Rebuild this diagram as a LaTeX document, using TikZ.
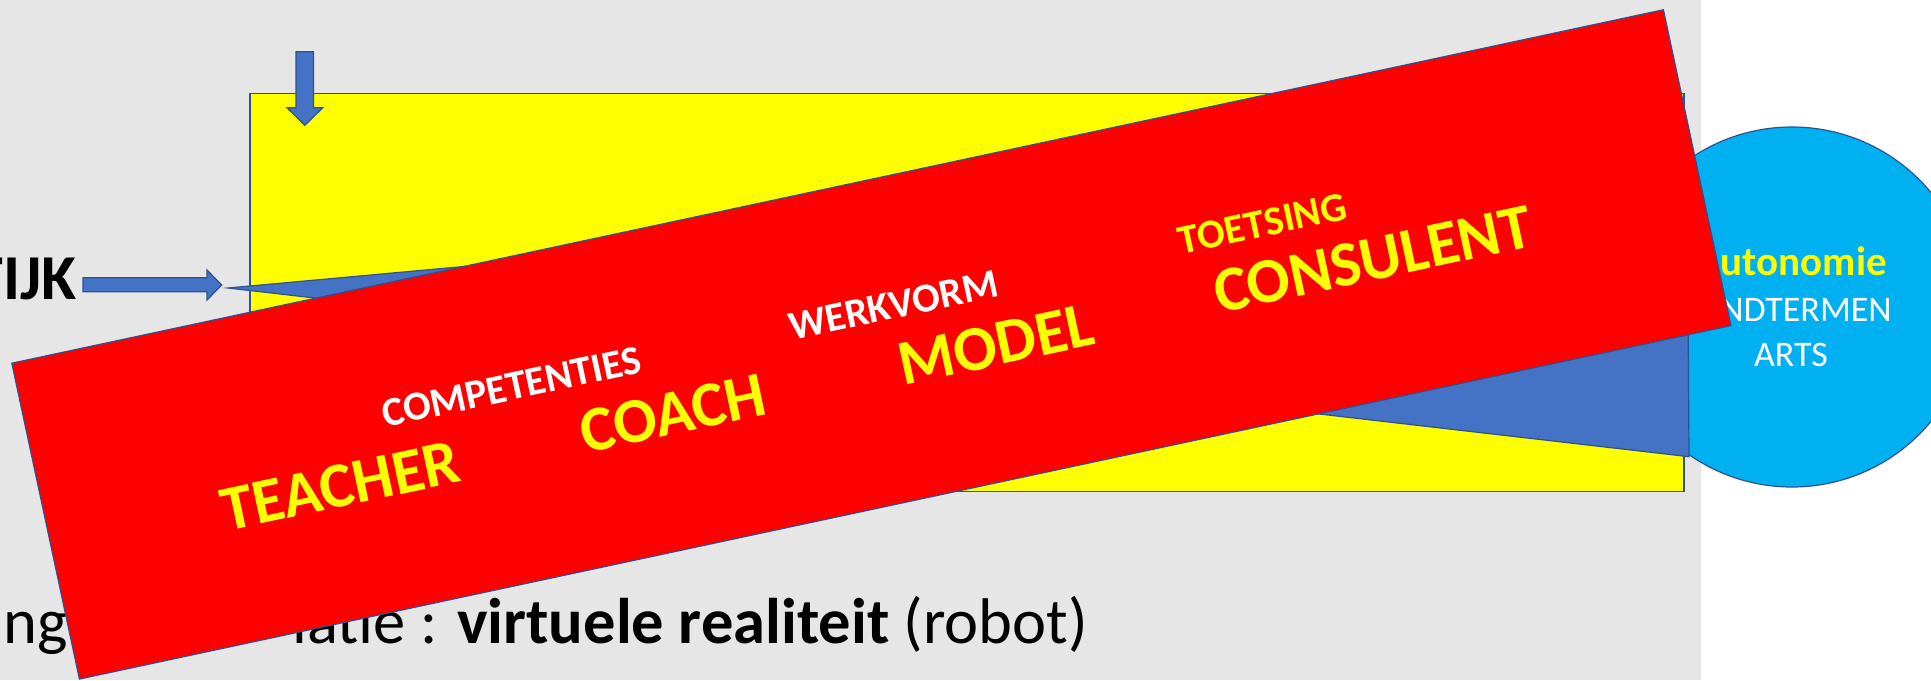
\documentclass[tikz,border=0pt]{standalone}
\usepackage{fontspec}
\setmainfont{Carlito}
\definecolor{slide}{HTML}{E6E6E6}
\definecolor{olblue}{HTML}{2F528F}
\definecolor{accblue}{HTML}{4472C4}
\definecolor{skyblue}{HTML}{00B0F0}
\definecolor{pyellow}{HTML}{FFFF00}
\definecolor{pred}{HTML}{FF0000}
\begin{document}
\begin{tikzpicture}[x=0.5pt,y=-0.5pt,
  outline/.style={draw=olblue,line width=0.6pt},
  bigword/.style={text=pyellow,font=\fontsize{32}{38}\selectfont\bfseries,rotate=12.08,anchor=base,inner sep=0pt},
  smallword/.style={font=\fontsize{20.5}{24}\selectfont\bfseries,rotate=12.08,anchor=base,inner sep=0pt},
  plain/.style={inner sep=0pt,text=black}]
\useasboundingbox (0,0) rectangle (1931,680);
\fill[white] (0,0) rectangle (1931,680);
\fill[slide] (0,0) rectangle (1701,680);
% circle
\node[circle,fill=skyblue,outline,minimum size=180pt,inner sep=0pt] (goal) at (1792,307) {};
\node[anchor=base east,inner sep=0pt,text=pyellow,font=\fontsize{20.5}{24}\selectfont\bfseries] (auto) at (1887,275) {utonomie};
\node[anchor=base east,inner sep=0pt,text=white,font=\fontsize{18}{22}\selectfont] (eind) at (1892,321.7) {NDTERMEN};
\node[anchor=base,inner sep=0pt,text=white,font=\fontsize{18}{22}\selectfont] (arts) at (1791,366.7) {ARTS};
% yellow rectangle
\filldraw[fill=pyellow,outline] (250,93.3) rectangle (1684,491.5);
% down arrow
\filldraw[fill=accblue,outline] (296,51.7) -- (313.4,51.7) -- (313.4,107.7) -- (322.8,107.7) -- (304.8,125.3) -- (287,107.7) -- (296,107.7) -- cycle;
% right arrow
\filldraw[fill=accblue,outline] (83,277.7) -- (207,277.7) -- (207,270) -- (221.7,285) -- (207,300) -- (207,291.7) -- (83,291.7) -- cycle;
\node[anchor=base east,plain,font=\fontsize{32}{38}\selectfont\bfseries] (tijk) at (77,299) {TIJK};
% blue wedge
\filldraw[fill=accblue,outline,line join=miter] (228,288) -- (1687,155) -- (1689,456.7) -- cycle;
% bottom text
\node[anchor=base west,plain,font=\fontsize{32.25}{38}\selectfont] (ng) at (3,643.3) {ng};
\node[anchor=base east,plain,font=\fontsize{32.25}{38}\selectfont] (virt) at (1088.4,643.3) {latie : \textbf{virtuele realiteit} (robot)};
% red band
\node[fill=pred,outline,rotate=12.08,minimum width=844.5pt,minimum height=161.5pt,inner sep=0pt] (band) at (871.4,344.4) {};
\node[smallword,text=white] (comp) at (514.3,399.7) {COMPETENTIES};
\node[smallword,text=white] (werk) at (896.5,318.4) {WERKVORM};
\node[smallword,text=pyellow] (toets) at (1265.3,236.4) {TOETSING};
\node[bigword] (teach) at (345,506.3) {TEACHER};
\node[bigword] (coach) at (677.3,433.5) {COACH};
\node[bigword] (model) at (1000.7,365) {MODEL};
\node[bigword] (consul) at (1377,279.5) {CONSULENT};
\end{tikzpicture}
\end{document}
